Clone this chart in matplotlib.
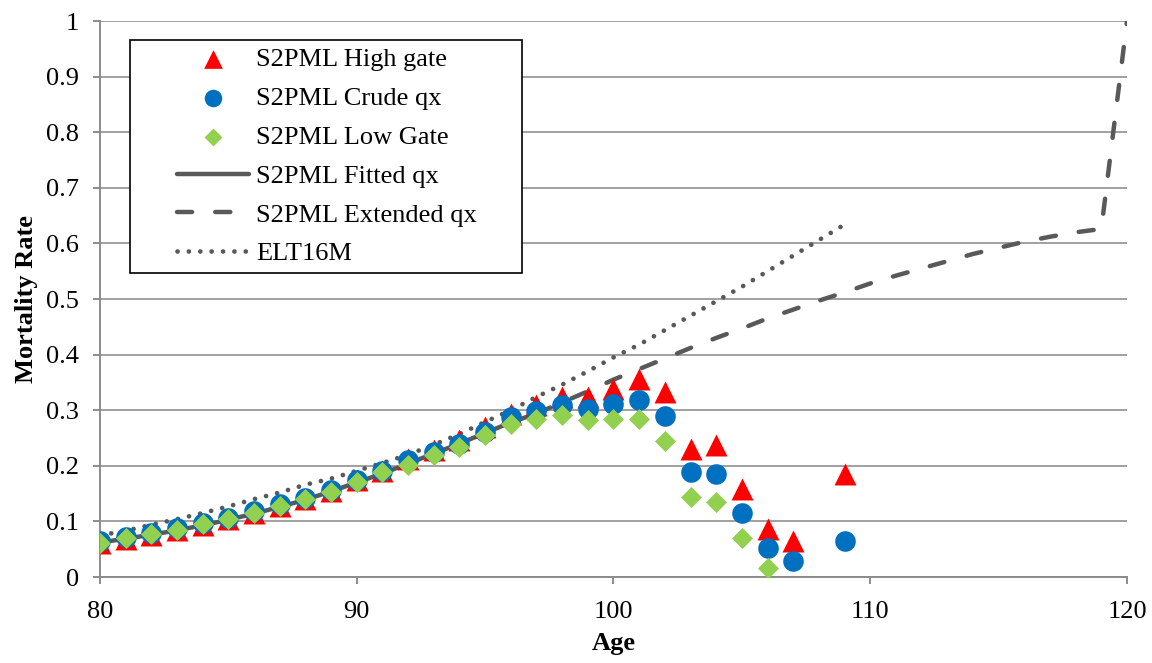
import matplotlib
matplotlib.use("Agg")
import matplotlib.pyplot as plt
import numpy as np
from matplotlib.collections import PathCollection
from matplotlib.legend_handler import HandlerLine2D, HandlerPathCollection
from matplotlib.lines import Line2D

plt.rcParams["font.family"] = ["Liberation Serif", "DejaVu Serif"]

# --- data ---
ages_obs = [80, 81, 82, 83, 84, 85, 86, 87, 88, 89, 90, 91, 92, 93, 94,
            95, 96, 97, 98, 99, 100, 101, 102, 103, 104, 105, 106, 107, 109]
high_gate = [0.061, 0.068, 0.076, 0.084, 0.093, 0.104, 0.116, 0.128, 0.141,
             0.155, 0.174, 0.191, 0.212, 0.228, 0.246, 0.269, 0.294, 0.309,
             0.324, 0.324, 0.339, 0.356, 0.333, 0.231, 0.237, 0.158, 0.086,
             0.065, 0.185]
crude_qx = [0.065, 0.072, 0.080, 0.088, 0.097, 0.107, 0.119, 0.131, 0.143,
            0.156, 0.174, 0.190, 0.210, 0.225, 0.240, 0.261, 0.288, 0.299,
            0.309, 0.303, 0.312, 0.318, 0.290, 0.188, 0.186, 0.115, 0.052,
            0.028, 0.064]
low_gate = [0.062, 0.070, 0.077, 0.085, 0.095, 0.104, 0.116, 0.128, 0.140,
            0.153, 0.171, 0.188, 0.201, 0.219, 0.234, 0.255, 0.276, 0.284,
            0.291, 0.282, 0.285, 0.284, 0.245, 0.144, 0.135, 0.071, 0.017,
            np.nan, np.nan]

ages_fit = list(range(80, 98))
fitted_qx = [0.062, 0.069, 0.076, 0.084, 0.093, 0.103, 0.114, 0.126, 0.139,
             0.154, 0.170, 0.186, 0.204, 0.222, 0.240, 0.259, 0.278, 0.294]

ages_ext = list(range(97, 121))
extended_qx = [0.294, 0.314, 0.334, 0.355, 0.374, 0.393, 0.412, 0.430,
               0.447, 0.465, 0.481, 0.497, 0.512, 0.528, 0.542, 0.555,
               0.568, 0.581, 0.592, 0.603, 0.612, 0.620, 0.626, 1.0]

ages_elt = list(range(80, 110))
elt16m = [0.075, 0.083, 0.094, 0.104, 0.115, 0.127, 0.140, 0.152, 0.166,
          0.177, 0.191, 0.205, 0.220, 0.238, 0.257, 0.279, 0.300, 0.324,
          0.346, 0.370, 0.395, 0.418, 0.444, 0.470, 0.496, 0.522, 0.550,
          0.578, 0.606, 0.634]

LINE_GREY = "#595959"
FS = 19

fig = plt.figure(figsize=(11.52, 6.63), dpi=100)
ax = fig.add_axes([0.0868, 0.1297, 0.8915, 0.8386])

# --- lines ---
ax.plot(ages_fit, fitted_qx, color=LINE_GREY, linewidth=3.2,
        solid_capstyle="round", label="S2PML Fitted qx", zorder=2)
ax.plot(ages_ext, extended_qx, color=LINE_GREY, linewidth=3.2,
        dashes=(3.4, 5.2), dash_capstyle="round",
        label="S2PML Extended qx", zorder=2)
ax.plot(ages_elt, elt16m, color=LINE_GREY, linewidth=3.4,
        dashes=(0.01, 2.4), dash_capstyle="round",
        label="ELT16M", zorder=2)

# --- markers ---
ax.scatter(ages_obs, high_gate, marker="^", s=250, color="#FF0000",
           linewidths=0, label="S2PML High gate", zorder=3)
ax.scatter(ages_obs, crude_qx, marker="o", s=220, color="#0070C0",
           linewidths=0, label="S2PML Crude qx", zorder=4)
ax.scatter(ages_obs, low_gate, marker="D", s=115, color="#92D050",
           linewidths=0, label="S2PML Low Gate", zorder=5)

# --- axes ---
ax.set_xlim(80, 120)
ax.set_ylim(0, 1)
ax.set_xticks([80, 90, 100, 110, 120])
ax.set_yticks(np.arange(0, 1.01, 0.1))
ax.set_yticklabels(["0", "0.1", "0.2", "0.3", "0.4", "0.5", "0.6", "0.7",
                    "0.8", "0.9", "1"])
ax.grid(axis="y", color="#A0A0A0", linewidth=1.4)
ax.set_axisbelow(True)
for side in ("top", "right"):
    ax.spines[side].set_visible(False)
for side in ("left", "bottom"):
    ax.spines[side].set_color("#8C8C8C")
    ax.spines[side].set_linewidth(1.4)
ax.tick_params(axis="both", colors="#8C8C8C", length=5, width=1.4,
               labelsize=FS, labelcolor="black")
ax.tick_params(axis="y", pad=10)
ax.tick_params(axis="x", pad=12)
ax.set_xlabel("Age", fontsize=FS, fontweight="bold", labelpad=7)
ax.set_ylabel("Mortality Rate", fontsize=FS, fontweight="bold", labelpad=6)

# --- legend in Excel order ---
handles, labels = ax.get_legend_handles_labels()
order = ["S2PML High gate", "S2PML Crude qx", "S2PML Low Gate",
         "S2PML Fitted qx", "S2PML Extended qx", "ELT16M"]
hmap = dict(zip(labels, handles))
xpad = 1.5
leg = ax.legend([hmap[k] for k in order], order, loc="upper left",
                bbox_to_anchor=(0.0292, 0.5486, 0.3817, 0.4172),
                mode="expand", borderaxespad=0,
                fontsize=FS, frameon=True, fancybox=False,
                edgecolor="black", framealpha=1, handlelength=4.2,
                handletextpad=0.27, labelspacing=0.58, borderpad=0.3,
                markerscale=0.85,
                handler_map={Line2D: HandlerLine2D(xpad=xpad),
                             PathCollection: HandlerPathCollection(xpad=xpad)})
leg.get_frame().set_linewidth(1.2)

fig.savefig("out.png", dpi=100)
